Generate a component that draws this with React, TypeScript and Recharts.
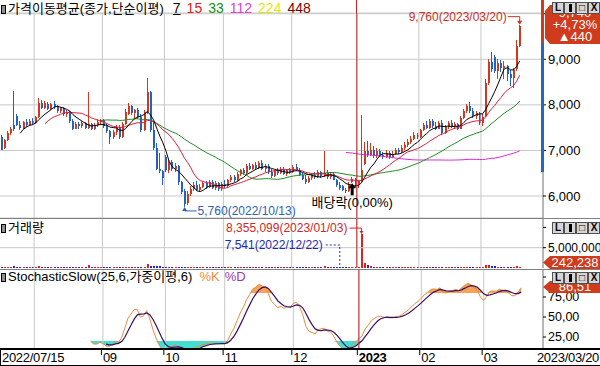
import React from 'react';
import {
  ComposedChart,
  Bar,
  Line,
  Area,
  XAxis,
  YAxis,
  CartesianGrid,
  ReferenceLine,
  ReferenceDot,
} from 'recharts';

const W = 600;
const AXIS_W = 57;
const PLOT_W = W - AXIS_W;
const SLOTS = 175;
const BAND = PLOT_W / SLOTS;
const FONT = '"Liberation Sans", Arial, "Noto Sans CJK KR", sans-serif';

const UP = '#d2381c';
const DOWN = '#2462c2';
const VUP = '#e02020';
const VDOWN = '#2424d0';
const GRID = '#c8c8c8';
const CROSS = '#cc2020';
const BADGE = '#cf3b1c';

// ---- trading days (categories) ----
const jul2022 = [15, 18, 19, 20, 21, 22, 25, 26, 27, 28, 29];
const aug2022 = [1, 2, 3, 4, 5, 8, 9, 10, 11, 12, 16, 17, 18, 19, 22, 23, 24, 25, 26, 29, 30, 31];
const sep2022 = [1, 2, 5, 6, 7, 8, 13, 14, 15, 16, 19, 20, 21, 22, 23, 26, 27, 28, 29, 30];
const oct2022 = [4, 5, 6, 7, 11, 12, 13, 14, 17, 18, 19, 20, 21, 24, 25, 26, 27, 28, 31];
const nov2022 = [1, 2, 3, 4, 7, 8, 9, 10, 11, 14, 15, 16, 17, 18, 21, 22, 23, 24, 25, 28, 29, 30];
const dec2022 = [1, 2, 5, 6, 7, 8, 9, 12, 13, 14, 15, 16, 19, 20, 21, 22, 23, 26, 27, 28, 29];
const jan2023 = [2, 3, 4, 5, 6, 9, 10, 11, 12, 13, 16, 17, 18, 19, 20, 25, 26, 27, 30, 31];
const feb2023 = [1, 2, 3, 6, 7, 8, 9, 10, 13, 14, 15, 16, 17, 20, 21, 22, 23, 24, 27, 28];
const mar2023 = [2, 3, 6, 7, 8, 9, 10, 13, 14, 15, 16, 17, 20];

const monthDays: [string, number[]][] = [
  ['2022/07', jul2022],
  ['2022/08', aug2022],
  ['2022/09', sep2022],
  ['2022/10', oct2022],
  ['2022/11', nov2022],
  ['2022/12', dec2022],
  ['2023/01', jan2023],
  ['2023/02', feb2023],
  ['2023/03', mar2023],
];

// ---- daily prices ----
const openPrice = [
  7290, 7050, 7220, 7380, 7560, 7760, 7560, 7500, 7620, 7560, 7640,
  7600, 7740, 8040, 7940, 8020, 7900, 8020, 7960, 7860, 7930, 7800, 7840, 7640, 7480, 7580, 7540, 7600, 7500, 7580, 7480, 7560, 7620,
  7660, 7540, 7420, 7300, 7400, 7520, 7300, 7580, 7800, 7980, 7820, 7880, 7740, 7450, 7840, 8280, 7450, 7060, 6600, 6540,
  6860, 6560, 6740, 6600, 6660, 6300, 6100, 5840, 6040, 6160, 6240, 6140, 6200, 6280, 6200, 6300, 6180, 6280, 6160,
  6260, 6220, 6340, 6420, 6340, 6480, 6560, 6500, 6660, 6600, 6680, 6620, 6720, 6600, 6660, 6520, 6440, 6540, 6500, 6600, 6480, 6560,
  6520, 6640, 6580, 6460, 6380, 6300, 6400, 6460, 6420, 6520, 6440, 6500, 6420, 6480, 6360, 6240, 6220, 6140, 6100, 6300, 6380,
  6240, 6320, 6700, 6980, 6900, 7020, 6880, 6980, 6900, 6860, 6940, 6860, 6920, 7000, 6960, 7060, 7120, 7180, 7260, 7340,
  7300, 7440, 7560, 7500, 7640, 7540, 7480, 7600, 7380, 7520, 7600, 7540, 7580, 7480, 7720, 7860, 7980, 7860, 7760, 7820,
  7600, 7760, 8480, 8940, 9050, 8740, 8920, 8800, 8860, 8680, 8600, 8780, 9300,
];
const highPrice = [
  7330, 7250, 7420, 7520, 8310, 7800, 7640, 7650, 7700, 7680, 7720,
  7760, 8150, 8100, 8080, 8060, 8050, 8090, 8000, 7960, 7960, 7880, 7870, 7680, 7620, 7620, 7640, 7620, 8290, 7600, 7600, 7680, 7700,
  7700, 7600, 7450, 7440, 7560, 7560, 7620, 7900, 8040, 8000, 7900, 7940, 7800, 7880, 8590, 8300, 7620, 7160, 6940, 6560,
  6900, 6790, 6780, 6720, 6680, 6330, 6150, 6100, 6220, 6300, 6320, 6260, 6320, 6320, 6340, 6340, 6320, 6300, 6300,
  6340, 6380, 6460, 6450, 6520, 6600, 6620, 6700, 6720, 6700, 6740, 6760, 6790, 6700, 6700, 6600, 6560, 6620, 6640, 6640, 6600, 6620,
  6680, 6700, 6620, 6500, 6460, 6440, 6500, 6520, 6560, 6540, 6990, 6560, 6520, 6520, 6380, 6300, 6240, 6180, 6300, 6420, 6400,
  6360, 7780, 7180, 7200, 7160, 7100, 7060, 7040, 6960, 7000, 6980, 6980, 7060, 7060, 7120, 7180, 7240, 7320, 7400, 7380,
  7480, 7600, 7640, 7680, 7680, 7620, 7640, 7660, 7560, 7640, 7660, 7620, 7600, 7760, 7900, 8020, 8060, 7940, 7860, 7840,
  7800, 8560, 9000, 9160, 9100, 9000, 8980, 8960, 8880, 8760, 8800, 9420, 9760,
];
const lowPrice = [
  7000, 7030, 7200, 7340, 7420, 7540, 7450, 7460, 7520, 7530, 7560,
  7580, 7720, 7900, 7900, 7880, 7880, 7920, 7820, 7820, 7760, 7740, 7600, 7440, 7460, 7480, 7500, 7460, 7480, 7440, 7440, 7520, 7560,
  7500, 7380, 7150, 7260, 7340, 7260, 7280, 7560, 7780, 7780, 7700, 7700, 7400, 7430, 7800, 7400, 7000, 6560, 6500, 6240,
  6520, 6500, 6540, 6520, 6250, 6040, 5760, 5800, 6000, 6120, 6100, 6120, 6180, 6160, 6180, 6150, 6140, 6120, 6100,
  6180, 6200, 6300, 6300, 6320, 6440, 6460, 6480, 6560, 6560, 6580, 6600, 6560, 6520, 6480, 6400, 6420, 6460, 6480, 6460, 6440, 6480,
  6500, 6540, 6440, 6340, 6260, 6280, 6360, 6380, 6400, 6400, 6420, 6380, 6380, 6340, 6200, 6140, 6100, 6060, 6080, 6280, 6200,
  6180, 6300, 6680, 6860, 6880, 6840, 6840, 6860, 6820, 6840, 6820, 6840, 6900, 6920, 6940, 7000, 7080, 7140, 7220, 7240,
  7280, 7420, 7460, 7480, 7500, 7440, 7460, 7340, 7360, 7480, 7500, 7460, 7440, 7460, 7700, 7820, 7820, 7720, 7680, 7560,
  7540, 7740, 8440, 8720, 8700, 8560, 8720, 8560, 8520, 8420, 8380, 8740, 9260,
];
const closePrice = [
  7010, 7230, 7380, 7480, 7470, 7560, 7500, 7620, 7560, 7650, 7600,
  7740, 8050, 7940, 8040, 7900, 8020, 7960, 7860, 7930, 7800, 7840, 7640, 7470, 7580, 7540, 7600, 7500, 7580, 7480, 7560, 7620, 7660,
  7540, 7420, 7300, 7400, 7520, 7300, 7580, 7840, 7980, 7820, 7880, 7740, 7440, 7840, 8280, 7450, 7060, 6600, 6540, 6400,
  6560, 6740, 6600, 6660, 6300, 6080, 5820, 6040, 6160, 6240, 6140, 6200, 6280, 6200, 6300, 6180, 6280, 6160, 6260,
  6220, 6340, 6420, 6340, 6480, 6560, 6500, 6660, 6600, 6680, 6620, 6720, 6600, 6660, 6520, 6440, 6540, 6500, 6600, 6480, 6560, 6520,
  6640, 6580, 6460, 6380, 6300, 6400, 6460, 6420, 6520, 6440, 6500, 6420, 6480, 6360, 6240, 6180, 6140, 6100, 6260, 6380, 6240,
  6320, 6580, 6980, 6900, 7020, 6880, 6980, 6900, 6860, 6940, 6860, 6920, 7000, 6960, 7060, 7120, 7180, 7260, 7340, 7300,
  7440, 7560, 7500, 7640, 7540, 7480, 7600, 7380, 7520, 7600, 7540, 7580, 7480, 7720, 7860, 7980, 7860, 7760, 7820, 7600,
  7740, 8480, 8940, 8780, 8740, 8920, 8800, 8860, 8680, 8600, 8760, 9300, 9740,
];
const volume = [
  180000, 150000, 160000, 140000, 420000, 230000, 150000, 120000, 110000, 100000, 90000,
  150000, 380000, 200000, 160000, 130000, 140000, 120000, 150000, 110000, 120000, 100000, 130000, 180000, 120000, 140000, 110000, 130000, 720000, 260000, 140000, 150000, 120000,
  130000, 140000, 210000, 160000, 130000, 120000, 150000, 220000, 260000, 180000, 140000, 130000, 200000, 170000, 1050000, 560000, 420000, 520000, 380000, 300000,
  260000, 220000, 170000, 150000, 240000, 280000, 360000, 300000, 210000, 180000, 150000, 130000, 140000, 120000, 110000, 130000, 100000, 110000, 120000,
  110000, 130000, 160000, 120000, 170000, 190000, 150000, 210000, 170000, 150000, 140000, 160000, 180000, 130000, 120000, 140000, 110000, 100000, 120000, 110000, 100000, 90000,
  110000, 100000, 90000, 120000, 130000, 100000, 90000, 80000, 90000, 80000, 420000, 150000, 90000, 80000, 70000, 7541, 60000, 70000, 80000, 90000, 80000,
  110000, 8355099, 1150000, 620000, 380000, 300000, 260000, 210000, 180000, 170000, 150000, 160000, 180000, 170000, 190000, 220000, 260000, 200000, 240000, 180000,
  220000, 250000, 190000, 200000, 170000, 150000, 180000, 210000, 170000, 180000, 160000, 150000, 140000, 260000, 300000, 340000, 250000, 200000, 180000, 220000,
  200000, 820000, 760000, 560000, 400000, 350000, 300000, 280000, 320000, 260000, 240000, 520000, 242238,
];

const maPeriods = [7, 15, 33, 112];
const legendPeriods = [7, 15, 33, 112, 224, 448];
const legendColors = ['#000000', '#e02020', '#109010', '#e040e0', '#e6e600', '#800000'];
const maColors = ['#000000', '#dc1e3c', '#208a20', '#d828d8'];
const priceTicks = [6000, 7000, 8000, 9000, 10000];
const volumeTicks = [5000000, 10000000];
const stochTicks = [25, 50, 75, 100];
const exDivDate = '2022/12/28';
const crossDate = '2023/01/02';
const lastChange = 440;
const lastChangePct = '+4,73%';

// ---- derived ----
const dates = monthDays.flatMap(([ym, ds]) => ds.map((d) => `${ym}/${String(d).padStart(2, '0')}`));
const monthStarts = monthDays.slice(1).map(([ym, ds]) => `${ym}/${String(ds[0]).padStart(2, '0')}`);
const N = dates.length;

const sma = (arr: number[], n: number) =>
  arr.map((_, i) => {
    if (i < n - 1) return null;
    let s = 0;
    for (let j = i - n + 1; j <= i; j++) s += arr[j];
    return s / n;
  });
const wma = (arr: (number | null)[], n: number) =>
  arr.map((_, i) => {
    if (i < n - 1) return null;
    let s = 0;
    let ws = 0;
    for (let j = 0; j < n; j++) {
      const v = arr[i - n + 1 + j];
      if (v == null) return null;
      s += v * (j + 1);
      ws += j + 1;
    }
    return s / ws;
  });

const mas = maPeriods.map((p) => sma(closePrice, p));
const fastK = closePrice.map((c, i) => {
  if (i < 24) return null;
  let hh = -Infinity;
  let ll = Infinity;
  for (let j = i - 24; j <= i; j++) {
    hh = Math.max(hh, highPrice[j]);
    ll = Math.min(ll, lowPrice[j]);
  }
  return hh === ll ? 50 : ((c - ll) / (hh - ll)) * 100;
});
const slowK = wma(fastK, 6);
const slowD = wma(slowK, 6);

const rows = Array.from({ length: SLOTS }, (_, i) => {
  if (i >= N) return { date: `_${i}` } as any;
  return {
    date: dates[i],
    open: openPrice[i],
    high: highPrice[i],
    low: lowPrice[i],
    close: closePrice[i],
    volume: volume[i],
    ma7: mas[0][i],
    ma15: mas[1][i],
    ma33: mas[2][i],
    ma112: mas[3][i],
    k: slowK[i],
    d: slowD[i],
  } as any;
});

const hiIdx = highPrice.indexOf(Math.max(...highPrice));
const loIdx = lowPrice.indexOf(Math.min(...lowPrice));
const vMaxIdx = volume.indexOf(Math.max(...volume));
const vMinIdx = volume.indexOf(Math.min(...volume));
const exIdx = dates.indexOf(exDivDate);
const fmt = (v: number) => Math.round(v).toLocaleString('en-US');
const lastK = slowK[N - 1] as number;

// ---- shapes ----
const Candle = (p: any) => {
  const { x, y, width, height, payload } = p;
  if (!payload || payload.open == null || x == null || y == null) return null;
  const top = Math.min(y, y + height);
  const bot = Math.max(y, y + height);
  const { open: o, high: h, low: l, close: c } = payload;
  const toY = (v: number) => (h === l ? top : top + ((h - v) / (h - l)) * (bot - top));
  const col = c >= o ? UP : DOWN;
  const cx = Math.floor(x + width / 2);
  const bt = toY(Math.max(o, c));
  const bb = toY(Math.min(o, c));
  return (
    <g shapeRendering="crispEdges">
      <line x1={cx + 0.5} x2={cx + 0.5} y1={top} y2={bot} stroke={col} strokeWidth={1} />
      <rect x={cx} y={bt} width={2} height={Math.max(1, bb - bt)} fill={col} />
    </g>
  );
};

const VolBar = (p: any) => {
  const { x, y, width, height, payload } = p;
  if (!payload || payload.volume == null || x == null) return null;
  const base = y + height;
  const h = Math.max(1, height);
  const cx = Math.floor(x + width / 2);
  return (
    <rect
      x={cx}
      y={base - h}
      width={2}
      height={h}
      fill={payload.close >= payload.open ? VUP : VDOWN}
      shapeRendering="crispEdges"
    />
  );
};

const txt = { fontFamily: FONT, fontSize: 12 } as const;

const HighMark = (p: any) => {
  const { cx, cy } = p;
  const col = '#c8321e';
  return (
    <g>
      <text x={cx - 13} y={cy - 8} dy="0.35em" textAnchor="end" fill={col} {...txt}>
        {`${fmt(highPrice[hiIdx])}(${dates[hiIdx]})`}
      </text>
      <polyline points={`${cx - 12},${cy - 8} ${cx},${cy - 8} ${cx},${cy - 3}`} fill="none" stroke={col} />
      <path d={`M${cx - 2.5},${cy - 4} L${cx + 2.5},${cy - 4} L${cx},${cy} Z`} fill={col} />
    </g>
  );
};

const LowMark = (p: any) => {
  const { cx, cy } = p;
  const col = '#2e62b2';
  return (
    <g>
      <path d={`M${cx - 2.5},${cy + 4} L${cx + 2.5},${cy + 4} L${cx},${cy} Z`} fill={col} />
      <polyline points={`${cx},${cy + 3} ${cx},${cy + 4} ${cx + 12},${cy + 4}`} fill="none" stroke={col} />
      <text x={cx + 13} y={cy + 4} dy="0.35em" textAnchor="start" fill={col} {...txt}>
        {`${fmt(lowPrice[loIdx])}(${dates[loIdx]})`}
      </text>
    </g>
  );
};

const ExDivMark = (p: any) => {
  const { cx, cy } = p;
  return (
    <g>
      <path
        d={`M${cx},${cy} L${cx + 4},${cy + 5} L${cx + 1.5},${cy + 5} L${cx + 1.5},${cy + 12} L${cx - 1.5},${cy + 12} L${cx - 1.5},${cy + 5} L${cx - 4},${cy + 5} Z`}
        fill="#000"
      />
      <text x={cx} y={cy + 19} dy="0.35em" textAnchor="middle" fill="#000" fontFamily={FONT} fontSize={13}>
        배당락(0,00%)
      </text>
    </g>
  );
};

const VolMaxMark = (p: any) => {
  const { cx, cy } = p;
  const col = '#d02828';
  return (
    <g>
      <text x={cx - 14} y={cy - 6} dy="0.35em" textAnchor="end" fill={col} {...txt}>
        {`${fmt(volume[vMaxIdx])}(${dates[vMaxIdx]})`}
      </text>
      <polyline points={`${cx - 12},${cy - 6} ${cx},${cy - 6} ${cx},${cy - 2}`} fill="none" stroke={col} />
      <path d={`M${cx - 2},${cy - 3} L${cx + 2},${cy - 3} L${cx},${cy} Z`} fill={col} />
    </g>
  );
};

const VolMinMark = (p: any) => {
  const { cx, cy } = p;
  const col = '#1e28b4';
  return (
    <g>
      <text x={cx - 17} y={cy - 23} dy="0.35em" textAnchor="end" fill={col} {...txt}>
        {`${fmt(volume[vMinIdx])}(${dates[vMinIdx]})`}
      </text>
      <polyline
        points={`${cx - 14},${cy - 23} ${cx},${cy - 23} ${cx},${cy}`}
        fill="none"
        stroke={col}
        strokeDasharray="2 2"
      />
    </g>
  );
};

const STOCH_PLOT_H = 78;

const XTick = (p: any) => {
  const { x, payload } = p;
  const v: string = payload.value;
  const left = x - BAND / 2;
  const base = STOCH_PLOT_H + 14;
  const style = { fontFamily: FONT, fontSize: 13, fill: '#000', letterSpacing: -0.3 } as any;
  if (v === dates[0]) {
    return (
      <text x={2} y={base} {...style}>
        {v}
      </text>
    );
  }
  if (v === dates[N - 1]) {
    return (
      <text x={W - 1} y={base} textAnchor="end" {...style}>
        {v}
      </text>
    );
  }
  const isJan = v.slice(5, 7) === '01';
  const label = isJan ? v.slice(0, 4) : v.slice(5, 7);
  return (
    <g>
      <line x1={left} x2={left} y1={STOCH_PLOT_H + 1} y2={STOCH_PLOT_H + 7} stroke="#000" />
      <text x={left + 1.5} y={base} fontWeight={isJan ? 'bold' : 'normal'} {...style}>
        {label}
      </text>
    </g>
  );
};

const Icon = () => (
  <span
    style={{
      display: 'inline-block',
      width: 3,
      height: 7,
      background: '#909090',
      border: '1px solid #000',
      marginRight: 2,
      verticalAlign: '-1px',
    }}
  />
);

const Buttons = ({ top }: { top: number }) => (
  <div style={{ position: 'absolute', left: 552, top, display: 'flex' }}>
    {['L', 'I', '□', 'X'].map((g) => (
      <div
        key={g}
        style={{
          width: 12,
          height: 12,
          boxSizing: 'border-box',
          border: '1px solid #505050',
          background: '#d6d6d6',
          fontSize: 10,
          fontWeight: 'bold',
          lineHeight: '10px',
          textAlign: 'center',
          color: '#000',
          fontFamily: FONT,
        }}
      >
        {g === 'I' ? (
          <span style={{ display: 'inline-block', width: 3, height: 8, background: '#000', marginTop: 1 }} />
        ) : (
          g
        )}
      </div>
    ))}
  </div>
);

const Badge = ({ top, height, lines }: { top: number; height: number; lines: string[] }) => {
  const mid = height / 2;
  return (
    <div style={{ position: 'absolute', left: 543, top, width: 57, height }}>
      <svg width={57} height={height} style={{ position: 'absolute', left: 0, top: 0 }}>
        <polygon
          points={
            height > 20
              ? `7,0 57,0 57,${height} 7,${height} 2,${height - 6} 2,6`
              : `7,0 57,0 57,${height} 7,${height} 0,${mid}`
          }
          fill={BADGE}
        />
      </svg>
      <div
        style={{
          position: 'absolute',
          left: 7,
          top: 0,
          width: 50,
          height,
          display: 'flex',
          flexDirection: 'column',
          justifyContent: 'center',
          alignItems: 'center',
          color: '#fff',
          fontSize: 13,
          lineHeight: '12px',
          fontFamily: FONT,
        }}
      >
        {lines.map((l, i) => (
          <div key={i}>{l}</div>
        ))}
      </div>
    </div>
  );
};

const gridLines = (prefix: string) =>
  monthStarts.map((d) => (
    <ReferenceLine key={prefix + d} x={d} position="start" stroke={GRID} ifOverflow="visible" />
  ));

export default function App() {
  return (
    <div
      style={{
        position: 'absolute',
        left: 0,
        top: 0,
        width: W,
        height: 366,
        background: '#fff',
        overflow: 'hidden',
        fontFamily: FONT,
      }}
    >
      {/* price panel */}
      <div style={{ position: 'absolute', left: 0, top: 0 }}>
        <ComposedChart width={W} height={218} data={rows} margin={{ top: 13, right: 0, bottom: 0, left: 0 }}>
          <CartesianGrid vertical={false} stroke={GRID} />
          <XAxis dataKey="date" hide />
          <YAxis
            orientation="right"
            width={AXIS_W}
            domain={[5517, 10016]}
            ticks={priceTicks}
            allowDataOverflow
            interval={0}
            tickFormatter={fmt}
            tick={{ fontSize: 13, fill: '#000', fontFamily: FONT }}
            tickSize={3}
            tickMargin={2}
            axisLine={{ stroke: '#707070' }}
            tickLine={{ stroke: '#000' }}
          />
          {gridLines('p')}
          <Bar
            dataKey={(r: any) => (r.low == null ? null : [r.low, r.high])}
            shape={(p: any) => <Candle {...p} />}
            isAnimationActive={false}
          />
          <Line dataKey="ma112" stroke={maColors[3]} dot={false} strokeWidth={1} isAnimationActive={false} type="linear" />
          <Line dataKey="ma33" stroke={maColors[2]} dot={false} strokeWidth={1} isAnimationActive={false} type="linear" />
          <Line dataKey="ma15" stroke={maColors[1]} dot={false} strokeWidth={1} isAnimationActive={false} type="linear" />
          <Line dataKey="ma7" stroke={maColors[0]} dot={false} strokeWidth={1} isAnimationActive={false} type="linear" />
          <ReferenceLine x={crossDate} position="start" stroke={CROSS} />
          <ReferenceDot x={dates[hiIdx]} y={highPrice[hiIdx]} r={0} shape={(p: any) => <HighMark {...p} />} />
          <ReferenceDot x={dates[loIdx]} y={lowPrice[loIdx]} r={0} shape={(p: any) => <LowMark {...p} />} />
          <ReferenceDot x={dates[exIdx]} y={lowPrice[exIdx]} r={0} shape={(p: any) => <ExDivMark {...p} />} />
        </ComposedChart>
      </div>

      {/* volume panel */}
      <div style={{ position: 'absolute', left: 0, top: 219 }}>
        <ComposedChart width={W} height={50} data={rows} margin={{ top: 0, right: 0, bottom: 1, left: 0 }}>
          <XAxis dataKey="date" hide />
          <YAxis
            orientation="right"
            width={AXIS_W}
            domain={[0, 12070000]}
            ticks={volumeTicks}
            allowDataOverflow
            interval={0}
            tickFormatter={(v: number) => (v === 5000000 ? fmt(v) : '')}
            tick={{ fontSize: 12, fill: '#000', fontFamily: FONT }}
            tickSize={3}
            tickMargin={2}
            axisLine={{ stroke: '#707070' }}
            tickLine={{ stroke: '#000' }}
          />
          <ReferenceLine y={5000000} stroke={GRID} />
          {gridLines('v')}
          <Bar dataKey="volume" shape={(p: any) => <VolBar {...p} />} isAnimationActive={false} />
          <ReferenceLine x={crossDate} position="start" stroke={CROSS} />
          <ReferenceDot x={dates[vMaxIdx]} y={volume[vMaxIdx]} r={0} shape={(p: any) => <VolMaxMark {...p} />} />
          <ReferenceDot x={dates[vMinIdx]} y={volume[vMinIdx]} r={0} shape={(p: any) => <VolMinMark {...p} />} />
        </ComposedChart>
      </div>

      {/* stochastic panel */}
      <div style={{ position: 'absolute', left: 0, top: 270 }}>
        <ComposedChart width={W} height={96} data={rows} margin={{ top: 0, right: 0, bottom: 0, left: 0 }}>
          <XAxis
            dataKey="date"
            height={18}
            ticks={[dates[0], ...monthStarts.slice(1), dates[N - 1]]}
            interval={0}
            axisLine={false}
            tickLine={false}
            tick={(p: any) => <XTick {...p} />}
          />
          <YAxis
            orientation="right"
            width={AXIS_W}
            domain={[11.25, 108.75]}
            ticks={stochTicks}
            allowDataOverflow
            interval={0}
            tickFormatter={(v: number) => (v >= 100 ? '' : v.toFixed(2).replace('.', ','))}
            tick={{ fontSize: 12.5, fill: '#000', fontFamily: FONT }}
            tickSize={3}
            tickMargin={2}
            axisLine={{ stroke: '#707070' }}
            tickLine={{ stroke: '#000' }}
          />
          {gridLines('s')}
          <Area
            type="linear"
            dataKey={(r: any) => (r.k == null ? null : [Math.min(20, r.k, r.d ?? r.k), 20])}
            stroke="none"
            fill="#44ddd0"
            fillOpacity={1}
            isAnimationActive={false}
          />
          <Area
            type="linear"
            dataKey={(r: any) => (r.k == null ? null : [80, Math.max(80, r.k, r.d ?? r.k)])}
            stroke="none"
            fill="#f6a35a"
            fillOpacity={1}
            isAnimationActive={false}
          />
          <Line dataKey="k" stroke="#ee8a3c" dot={false} strokeWidth={1} isAnimationActive={false} type="linear" />
          <Line dataKey="d" stroke="#3a1060" dot={false} strokeWidth={1.2} isAnimationActive={false} type="linear" />
          <ReferenceLine x={crossDate} position="start" stroke={CROSS} />
        </ComposedChart>
      </div>

      {/* crosshair top piece (title band) */}
      <div style={{ position: 'absolute', left: 356, top: 0, width: 1, height: 13, background: CROSS }} />

      {/* panel separators */}
      <div style={{ position: 'absolute', left: 0, top: 218, width: W, height: 1, background: '#808080' }} />
      <div style={{ position: 'absolute', left: 0, top: 269, width: W, height: 1, background: '#808080' }} />

      {/* x axis strip frame */}
      <div
        style={{
          position: 'absolute',
          left: 0,
          top: 348,
          width: W,
          height: 18,
          boxSizing: 'border-box',
          borderTop: '2px solid #000',
          borderBottom: '1px solid #000',
          borderLeft: '1px solid #000',
          pointerEvents: 'none',
        }}
      />

      {/* price axis range markers */}
      <div style={{ position: 'absolute', left: 541, top: 0, width: 3, height: 43, background: BADGE }} />
      <div style={{ position: 'absolute', left: 541, top: 43, width: 3, height: 129, background: '#2468c0' }} />

      {/* titles */}
      <div style={{ position: 'absolute', left: 1, top: 1, fontSize: 13, lineHeight: '14px', whiteSpace: 'nowrap' }}>
        <Icon />
        <span>가격이동평균(종가,단순이평)</span>
        {legendPeriods.map((p, i) => (
          <span
            key={p}
            style={{
              color: legendColors[i],
              marginLeft: i === 0 ? 9 : 6,
              fontSize: 14,
              textDecoration: i === 0 ? 'underline' : 'none',
            }}
          >
            {p}
          </span>
        ))}
      </div>
      <div style={{ position: 'absolute', left: 1, top: 221, fontSize: 13, lineHeight: '14px', whiteSpace: 'nowrap' }}>
        <Icon />
        <span>거래량</span>
      </div>
      <div style={{ position: 'absolute', left: 1, top: 270, fontSize: 13, lineHeight: '14px', whiteSpace: 'nowrap' }}>
        <Icon />
        <span>StochasticSlow(25,6,가중이평,6)</span>
        <span style={{ color: '#f08a3c', marginLeft: 7 }}>%K</span>
        <span style={{ color: '#9a38b8', marginLeft: 5 }}>%D</span>
      </div>

      {/* last-value badges */}
      <Badge
        top={5}
        height={39}
        lines={[fmt(closePrice[N - 1]), lastChangePct, `▲${lastChange}`]}
      />
      <Badge top={256} height={13} lines={[fmt(volume[N - 1])]} />
      <Badge top={281} height={12} lines={[lastK.toFixed(2).replace('.', ',')]} />

      {/* panel buttons */}
      <Buttons top={2} />
      <Buttons top={222} />
      <Buttons top={272} />
    </div>
  );
}
